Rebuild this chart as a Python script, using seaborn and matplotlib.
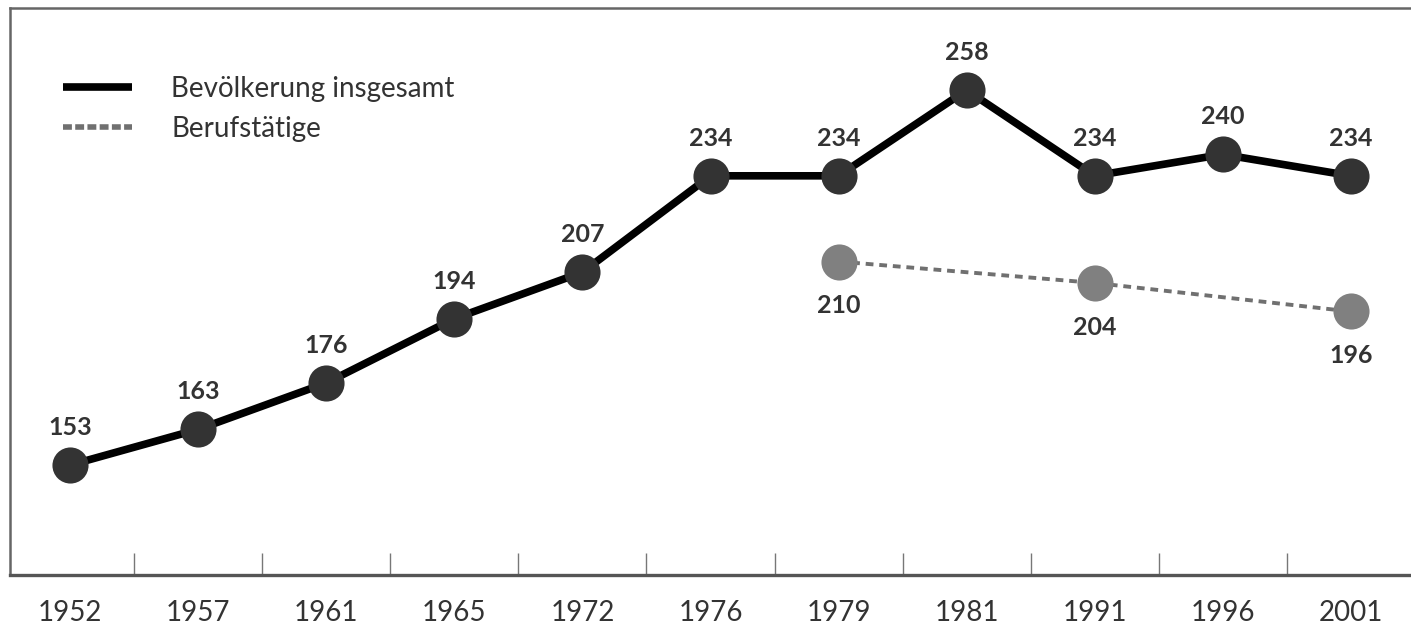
import numpy as np
import pandas as pd
import seaborn as sns
import matplotlib.pyplot as plt
from matplotlib.ticker import FixedLocator

# data
years = ["1952", "1957", "1961", "1965", "1972", "1976", "1979", "1981", "1991", "1996", "2001"]
bevoelkerung = [153, 163, 176, 194, 207, 234, 234, 258, 234, 240, 234]
beruf_years = ["1979", "1991", "2001"]
berufstaetige = [210, 204, 196]

sns.set_theme(style="white")
plt.rcParams['font.family'] = ['Lato', 'DejaVu Sans']

df_all = pd.DataFrame({"pos": [years.index(y) for y in years], "wert": bevoelkerung})
df_beruf = pd.DataFrame({"pos": [years.index(y) for y in beruf_years], "wert": berufstaetige})

fig = plt.figure(figsize=(14.11, 6.3), dpi=100)
ax = fig.add_axes([0.0071, 0.0873, 0.9929, 0.9])

sns.lineplot(data=df_beruf, x="pos", y="wert", ax=ax, color="#707070", lw=2.8,
             linestyle=(0, (2.0, 1.5)), marker="o", markersize=26,
             markerfacecolor="#808080", markeredgewidth=0, label="Berufstätige")
sns.lineplot(data=df_all, x="pos", y="wert", ax=ax, color="black", lw=5.5,
             marker="o", markersize=26, markerfacecolor="#333333",
             markeredgewidth=0, label="Bevölkerung insgesamt")

for x, v in zip(df_all["pos"], df_all["wert"]):
    ax.annotate(str(v), (x, v), xytext=(0, 27), textcoords="offset points",
                ha="center", va="center", fontsize=18, fontweight="bold", color="#333333")
for x, v in zip(df_beruf["pos"], df_beruf["wert"]):
    ax.annotate(str(v), (x, v), xytext=(0, -32), textcoords="offset points",
                ha="center", va="center", fontsize=18, fontweight="bold", color="#333333")

ax.set_xlim(-0.47, len(years) - 0.53)
ax.set_ylim(122.2, 281)
ax.set_xticks(range(len(years)))
ax.set_xticklabels(years)
ax.xaxis.set_minor_locator(FixedLocator(np.arange(len(years) - 1) + 0.5))
ax.tick_params(axis="x", which="major", length=0, pad=18, labelsize=20, labelcolor="#333333")
ax.tick_params(axis="x", which="minor", bottom=True, direction="in", length=16, width=1, color="#777777")
ax.set_yticks([])
ax.set_xlabel("")
ax.set_ylabel("")

ax.spines["right"].set_visible(False)
for s in ["left", "top"]:
    ax.spines[s].set_color("#666666")
    ax.spines[s].set_linewidth(1.8)
ax.spines["bottom"].set_color("#555555")
ax.spines["bottom"].set_linewidth(2.4)

handles, labels = ax.get_legend_handles_labels()
leg = ax.legend(handles[::-1], labels[::-1], loc="upper left", bbox_to_anchor=(0.0378, 0.88),
                frameon=False, fontsize=20, handlelength=2.5, handletextpad=1.4,
                labelspacing=0.5, borderaxespad=0, borderpad=0)
for h in leg.legend_handles:
    h.set_marker("")
leg.legend_handles[0].set_solid_capstyle("butt")
leg.legend_handles[1].set_linewidth(4)
leg.legend_handles[1].set_linestyle((0, (1.6, 0.6)))
for t in leg.get_texts():
    t.set_color("#333333")

fig.savefig("out.png", dpi=100)
